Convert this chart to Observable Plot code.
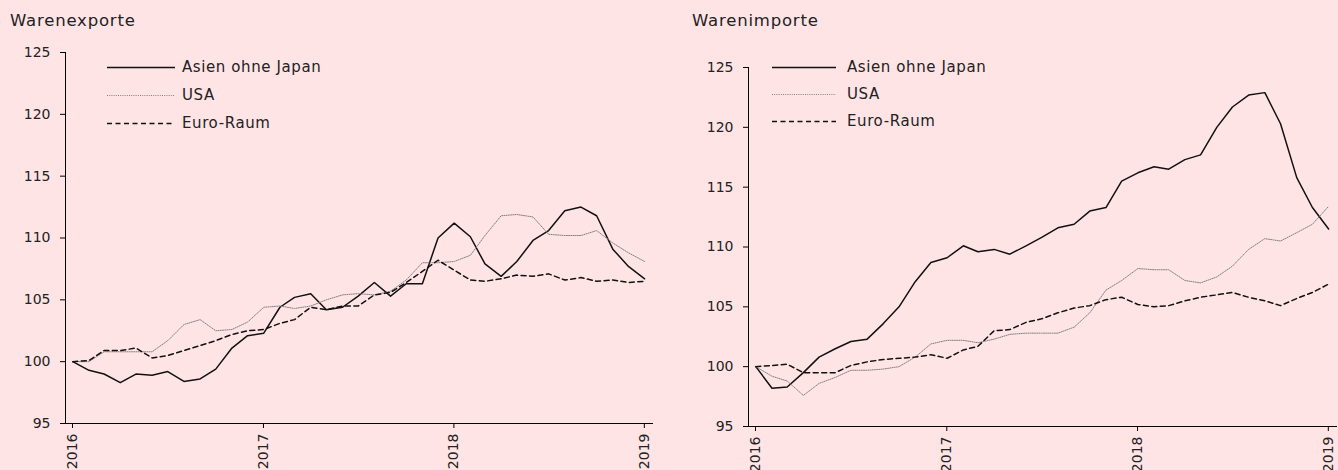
<!DOCTYPE html>
<html><head><meta charset="utf-8">
<script src="https://cdn.jsdelivr.net/npm/d3@7"></script>
<script src="https://cdn.jsdelivr.net/npm/@observablehq/plot@0.6"></script>
<style>
html,body{margin:0;padding:0;background:#ffe4e6;}
#wrap{position:relative;width:1338px;height:470px;overflow:hidden;font-family:"DejaVu Sans",sans-serif;color:#222;background:#ffe4e6;}
.title{position:absolute;top:13px;font-size:16.5px;line-height:16px;letter-spacing:0.8px;white-space:nowrap;}
.panel{position:absolute;top:0;}
.legend{position:absolute;left:0;top:0;font-size:15px;letter-spacing:0.6px;}
.legend .row{position:absolute;height:18px;display:flex;align-items:center;white-space:nowrap;}
.legend svg{display:block;}
</style></head><body><div id="wrap"></div>
<script>
// Monthly observations (index, Jan 2016 = 100)
const months = [
  "2016-01","2016-02","2016-03","2016-04","2016-05","2016-06","2016-07","2016-08","2016-09","2016-10","2016-11","2016-12",
  "2017-01","2017-02","2017-03","2017-04","2017-05","2017-06","2017-07","2017-08","2017-09","2017-10","2017-11","2017-12",
  "2018-01","2018-02","2018-03","2018-04","2018-05","2018-06","2018-07","2018-08","2018-09","2018-10","2018-11","2018-12",
  "2019-01"
];
const seriesNames = ["Asien ohne Japan", "USA", "Euro-Raum"];
const yearTicks = ["2016", "2017", "2018", "2019"];
const yTicks = [95, 100, 105, 110, 115, 120, 125];

// Warenexporte
const exportAsia = [100.0, 99.3, 99.0, 98.3, 99.0, 98.9, 99.2, 98.4, 98.6, 99.4, 101.1, 102.1,
  102.3, 104.4, 105.2, 105.5, 104.2, 104.4, 105.3, 106.4, 105.3, 106.3, 106.3, 110.0,
  111.2, 110.1, 107.9, 106.9, 108.1, 109.8, 110.6, 112.2, 112.5, 111.8, 109.1, 107.7, 106.7];
const exportUSA = [100.0, 100.0, 100.8, 100.8, 100.8, 100.8, 101.7, 103.0, 103.4, 102.5, 102.6, 103.2,
  104.4, 104.5, 104.3, 104.5, 105.0, 105.4, 105.5, 105.4, 105.7, 106.6, 108.0, 108.0,
  108.1, 108.6, 110.2, 111.8, 111.9, 111.7, 110.3, 110.2, 110.2, 110.6, 109.6, 108.8, 108.1];
const exportEuro = [100.0, 100.1, 100.9, 100.9, 101.1, 100.3, 100.5, 100.9, 101.3, 101.7, 102.2, 102.5,
  102.6, 103.1, 103.4, 104.4, 104.2, 104.5, 104.5, 105.4, 105.6, 106.4, 107.3, 108.2,
  107.4, 106.6, 106.5, 106.7, 107.0, 106.9, 107.1, 106.6, 106.8, 106.5, 106.6, 106.4, 106.5];

// Warenimporte
const importAsia = [100.0, 98.2, 98.3, 99.5, 100.8, 101.5, 102.1, 102.3, 103.6, 105.0, 107.1, 108.7,
  109.1, 110.1, 109.6, 109.8, 109.4, 110.1, 110.8, 111.6, 111.9, 113.0, 113.3, 115.5,
  116.2, 116.7, 116.5, 117.3, 117.7, 120.0, 121.7, 122.7, 122.9, 120.3, 115.8, 113.3, 111.5];
const importUSA = [100.0, 99.2, 98.8, 97.6, 98.6, 99.1, 99.7, 99.7, 99.8, 100.0, 100.8, 101.9,
  102.2, 102.2, 102.0, 102.3, 102.7, 102.8, 102.8, 102.8, 103.3, 104.5, 106.4, 107.2,
  108.2, 108.1, 108.1, 107.2, 107.0, 107.5, 108.4, 109.8, 110.7, 110.5, 111.2, 111.9, 113.4];
const importEuro = [100.0, 100.1, 100.2, 99.5, 99.5, 99.5, 100.1, 100.4, 100.6, 100.7, 100.8, 101.0,
  100.7, 101.4, 101.7, 103.0, 103.1, 103.7, 104.0, 104.5, 104.9, 105.1, 105.6, 105.8,
  105.2, 105.0, 105.1, 105.5, 105.8, 106.0, 106.2, 105.8, 105.5, 105.1, 105.7, 106.2, 106.9];

const styles = {
  "Asien ohne Japan": {stroke: "#111", strokeWidth: 1.5, dash: null},
  "USA": {stroke: "#808080", strokeWidth: 1, dash: "1,1.2"},
  "Euro-Raum": {stroke: "#111", strokeWidth: 1.5, dash: "5,3.5"}
};

const parseMonth = s => { const [y, m] = s.split("-").map(Number); return new Date(Date.UTC(y, m - 1, 15)); };
const yearDate = s => new Date(Date.UTC(+s, 0, 1));

function rows(values) {
  return seriesNames.flatMap((name, k) => values[k].map((v, i) => ({series: name, date: parseMonth(months[i]), value: v})));
}

function panel({title, values, left, width, marginLeft, marginRight, marginTop, marginBottom, titleLeft, legend}) {
  const wrap = document.getElementById("wrap");
  const data = rows(values);
  const xDomain = [yearDate(yearTicks[0]), new Date(Date.UTC(+yearTicks[yearTicks.length - 1], 1, 1))];
  const marks = [
    Plot.ruleX([xDomain[0]], {stroke: "#000", strokeWidth: 1}),
    Plot.ruleY([yTicks[0]], {stroke: "#000", strokeWidth: 1}),
    Plot.axisY({ticks: yTicks, label: null, tickSize: 5, tickPadding: 10, fontSize: 14, stroke: "#000", fill: "#222"}),
    Plot.axisX({ticks: yearTicks.map(yearDate), label: null, tickFormat: d3.utcFormat("%Y"), tickRotate: -90, tickSize: 5, tickPadding: 5, fontSize: 14, dx: 7, stroke: "#000", fill: "#222"})
  ];
  for (const name of seriesNames) {
    const s = styles[name];
    marks.push(Plot.line(data.filter(d => d.series === name), {
      x: "date", y: "value", stroke: s.stroke, strokeWidth: s.strokeWidth,
      strokeDasharray: s.dash || undefined, strokeLinejoin: "round"
    }));
  }
  const chart = Plot.plot({
    width, height: 470, marginLeft, marginRight, marginTop, marginBottom,
    style: {background: "transparent", fontFamily: "DejaVu Sans, sans-serif", color: "#222"},
    x: {type: "utc", domain: xDomain, axis: null, label: null},
    y: {domain: [yTicks[0], yTicks[yTicks.length - 1]], axis: null, label: null},
    marks
  });
  const holder = document.createElement("div");
  holder.className = "panel";
  holder.style.left = left + "px";
  holder.appendChild(chart);
  wrap.appendChild(holder);

  const t = document.createElement("div");
  t.className = "title";
  t.style.left = titleLeft + "px";
  t.textContent = title;
  wrap.appendChild(t);

  const lg = document.createElement("div");
  lg.className = "legend";
  seriesNames.forEach((name, k) => {
    const s = styles[name];
    const row = document.createElement("div");
    row.className = "row";
    row.style.left = legend.x + "px";
    row.style.top = (legend.y + k * legend.step - 9) + "px";
    row.innerHTML = `<svg width="${legend.len}" height="18" style="margin-right:${legend.gap}px"><line x1="0" x2="${legend.len}" y1="9.5" y2="9.5" stroke="${s.stroke}" stroke-width="${s.strokeWidth}" ${s.dash ? `stroke-dasharray="${s.dash}"` : ""}/></svg><span>${name}</span>`;
    lg.appendChild(row);
  });
  wrap.appendChild(lg);
}

panel({title: "Warenexporte", values: [exportAsia, exportUSA, exportEuro], left: 0, width: 669,
  marginLeft: 65, marginRight: 16, marginTop: 52, marginBottom: 47, titleLeft: 10,
  legend: {x: 107, y: 67, step: 28, len: 68, gap: 7}});
panel({title: "Warenimporte", values: [importAsia, importUSA, importEuro], left: 669, width: 669,
  marginLeft: 79, marginRight: 1, marginTop: 67, marginBottom: 44, titleLeft: 692,
  legend: {x: 772, y: 67, step: 27, len: 64, gap: 11}});
</script></body></html>
